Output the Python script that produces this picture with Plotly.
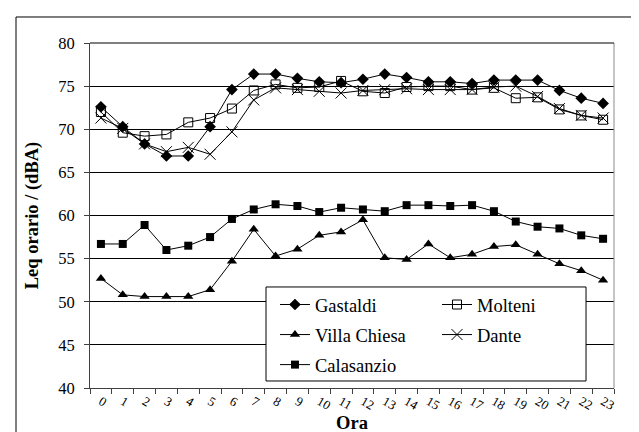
import plotly.graph_objects as go

hours = [str(h) for h in range(24)]

gastaldi = [72.6, 70.3, 68.3, 66.9, 66.9, 70.3, 74.6, 76.4, 76.4, 75.9, 75.5, 75.4,
            75.8, 76.4, 76.0, 75.5, 75.5, 75.3, 75.7, 75.7, 75.7, 74.5, 73.6, 73.0]
molteni = [72.0, 69.6, 69.2, 69.4, 70.8, 71.3, 72.4, 74.5, 75.2, 74.8, 74.9, 75.6,
           74.4, 74.2, 74.9, 75.0, 75.0, 74.6, 74.8, 73.6, 73.7, 72.3, 71.6, 71.1]
villa_chiesa = [52.7, 50.8, 50.6, 50.6, 50.6, 51.4, 54.7, 58.4, 55.3, 56.1, 57.7, 58.1,
                59.5, 55.1, 54.9, 56.7, 55.1, 55.5, 56.4, 56.6, 55.5, 54.4, 53.6, 52.5]
dante = [71.3, 70.1, 68.3, 67.4, 67.9, 67.1, 69.7, 73.4, 74.8, 74.6, 74.4, 74.2,
         74.5, 74.6, 74.7, 74.6, 74.6, 74.6, 74.9, 75.0, 73.8, 72.4, 71.6, 71.3]
calasanzio = [56.7, 56.7, 58.9, 56.0, 56.5, 57.5, 59.6, 60.7, 61.3, 61.1, 60.4, 60.9,
              60.7, 60.5, 61.2, 61.2, 61.1, 61.2, 60.5, 59.3, 58.7, 58.5, 57.7, 57.3]

FONT = "Liberation Serif"

series = [
    ("Gastaldi", gastaldi, dict(symbol="diamond", size=9, color="black"), "legend"),
    ("Villa Chiesa", villa_chiesa, dict(symbol="triangle-up", size=9, color="black"), "legend"),
    ("Calasanzio", calasanzio, dict(symbol="square", size=8, color="black"), "legend"),
    ("Molteni", molteni, dict(symbol="square-open", size=9, color="black",
                              line=dict(color="black", width=1)), "legend2"),
    ("Dante", dante, dict(symbol="x-thin-open", size=11, color="black",
                          line=dict(color="black", width=1)), "legend2"),
]

fig = go.Figure()
for name, vals, marker, leg in series:
    fig.add_trace(go.Scatter(
        x=hours, y=vals, name=name, mode="lines+markers",
        line=dict(color="black", width=1), marker=marker,
        legend=leg, legendgroup=name,
    ))

legend_common = dict(
    bgcolor="rgba(0,0,0,0)", borderwidth=0,
    font=dict(family=FONT, size=18.5, color="black"),
    traceorder="grouped", tracegroupgap=3,
    xanchor="left", yanchor="top", y=0.2957,
)

fig.update_layout(
    width=639, height=432,
    margin=dict(l=82, r=33, t=35, b=52),
    paper_bgcolor="white", plot_bgcolor="white",
    font=dict(family=FONT, color="black"),
    legend=dict(x=0.3530, **legend_common),
    legend2=dict(x=0.6622, **legend_common),
    xaxis=dict(
        type="category", range=[-0.5, 23.5],
        tickson="boundaries", ticks="outside", ticklen=5, tickcolor="#404040",
        showline=True, linecolor="#404040", linewidth=1,
        showgrid=False,
        tickfont=dict(family=FONT, size=13, color="black"),
        title=dict(text="<b>Ora</b>", font=dict(family=FONT, size=18.5, color="black"), standoff=3),
    ),
    yaxis=dict(
        range=[40, 80], dtick=5, tick0=40,
        ticks="outside", ticklen=5, tickcolor="#404040",
        showline=True, linecolor="#404040", linewidth=1,
        showgrid=True, gridcolor="black", gridwidth=1, zeroline=False,
        ticklabelstandoff=6,
        tickfont=dict(family=FONT, size=16.5, color="black"),
        title=dict(text="<b>Leq orario / (dBA)</b>", font=dict(family=FONT, size=18.5, color="black"), standoff=14),
    ),
    shapes=[
        # legend box
        dict(type="rect", xref="paper", yref="paper", x0=0.3359, x1=0.9466, y0=0.0203, y1=0.2928,
             fillcolor="white", line=dict(color="black", width=1), layer="above"),
        # right border of plot area
        dict(type="line", xref="paper", yref="paper", x0=1, x1=1, y0=0, y1=1,
             line=dict(color="#8c8c8c", width=1)),
        # top line at 80
        dict(type="line", xref="paper", yref="paper", x0=0, x1=1, y0=1, y1=1,
             line=dict(color="black", width=1)),
        # outer chart frame
        dict(type="rect", xref="paper", yref="paper", x0=-0.1412, x1=1.09, y0=-0.2, y1=1.0754,
             line=dict(color="black", width=1), fillcolor="rgba(0,0,0,0)", layer="below"),
    ],
)

fig.write_html("out.html")
